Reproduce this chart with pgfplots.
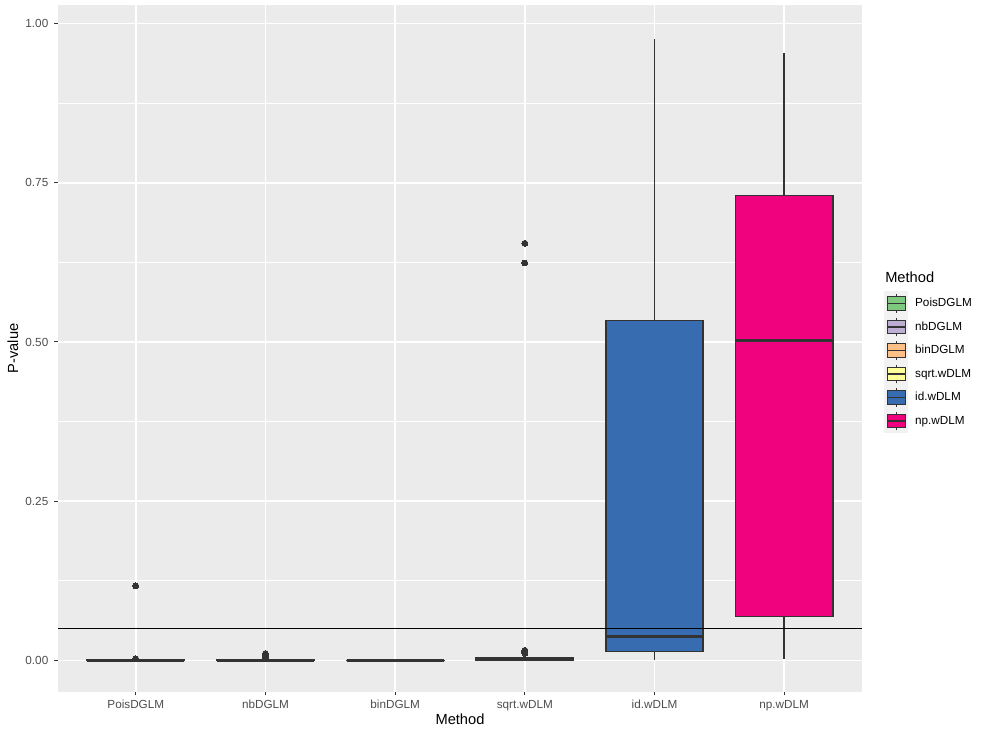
\documentclass[border=0pt]{standalone}
\usepackage{fontspec}
\setmainfont{Liberation Sans}
\usepackage{pgfplots}
\pgfplotsset{compat=1.18}
\usepgfplotslibrary{statistics}

\definecolor{panelbg}{HTML}{EBEBEB}
\definecolor{keybg}{HTML}{F2F2F2}
\definecolor{c33}{HTML}{333333}
\definecolor{c4d}{HTML}{4D4D4D}
\definecolor{cPois}{HTML}{7FC97F}
\definecolor{cNb}{HTML}{BEAED4}
\definecolor{cBin}{HTML}{FDC086}
\definecolor{cSqrt}{HTML}{FFFF99}
\definecolor{cId}{HTML}{386CB0}
\definecolor{cNp}{HTML}{F0027F}

\pgfplotsset{
  lgbox/.style={legend image code/.code={
    \fill[keybg] (0pt,-8.64pt) rectangle (17.28pt,8.64pt);
    \draw[c33, line width=0.7pt] (8.64pt,-7pt) -- (8.64pt,-5pt)
                                 (8.64pt,5pt) -- (8.64pt,7pt);
    \draw[c33, fill=#1, line width=0.7pt] (1.7pt,-5pt) rectangle (15.58pt,5pt);
    \draw[c33, line width=1.2pt] (1.7pt,0pt) -- (15.58pt,0pt);
  }},
  gbox/.style={
    solid, fill=#1, draw=c33, line width=1.1pt,
    mark=*, mark size=2.2pt, mark options={draw=c33, fill=c33, line width=0pt},
    lgbox=#1
  },
}

\begin{document}
\begin{tikzpicture}
\begin{axis}[
  scale only axis,
  width=603pt, height=515pt,
  xmin=0.4, xmax=6.6,
  ymin=-0.049, ymax=1.029,
  axis background/.style={fill=panelbg},
  axis line style={draw=none},
  grid=both,
  major grid style={white, line width=1.2pt},
  minor grid style={white, line width=0.6pt},
  xtick={1,2,3,4,5,6},
  xticklabels={PoisDGLM,nbDGLM,binDGLM,sqrt.wDLM,id.wDLM,np.wDLM},
  ytick={0,0.25,0.5,0.75,1},
  minor ytick={0.125,0.375,0.625,0.875},
  xtick pos=lower, ytick pos=left,
  tick align=outside,
  major tick length=2.75pt,
  minor tick length=0pt,
  tick style={c33, line width=0.8pt},
  tick label style={font=\fontsize{8.8}{10}\selectfont, text=c4d},
  yticklabel style={xshift=-1pt, /pgf/number format/.cd, fixed, fixed zerofill, precision=2, assume math mode=true},
  xlabel={Method}, ylabel={P-value},
  label style={font=\fontsize{11}{13}\selectfont},
  xlabel style={at={(axis description cs:0.5,-0.0408)}, anchor=center},
  ylabel style={at={(axis description cs:-0.056,0.5)}, anchor=center},
  boxplot/draw direction=y,
  boxplot/box extend=0.75,
  boxplot/whisker extend=0,
  boxplot/every median/.style={line width=2.5pt},
  legend style={at={(axis description cs:1.027,0.5834)}, anchor=north west,
    draw=none, fill=none, inner sep=0pt, row sep=-0.75pt, column sep=5pt,
    font=\fontsize{8.8}{10}\selectfont, nodes={inner sep=0pt}},
  legend cell align=left,
]
% PoisDGLM
\addplot+[gbox=cPois, boxplot prepared={draw position=1,
  lower whisker=0, lower quartile=0, median=0.0002,
  upper quartile=0.0006, upper whisker=0.0012}]
  table[row sep=\\, y index=0] {data\\ 0.117\\ 0.0025\\};
\addlegendentry{PoisDGLM}
% nbDGLM
\addplot+[gbox=cNb, boxplot prepared={draw position=2,
  lower whisker=0, lower quartile=0, median=0.0002,
  upper quartile=0.0007, upper whisker=0.0015}]
  table[row sep=\\, y index=0] {data\\ 0.004\\ 0.006\\ 0.008\\ 0.010\\ 0.011\\};
\addlegendentry{nbDGLM}
% binDGLM
\addplot+[gbox=cBin, boxplot prepared={draw position=3,
  lower whisker=0, lower quartile=0, median=0,
  upper quartile=0.0002, upper whisker=0.0004}]
  coordinates {};
\addlegendentry{binDGLM}
% sqrt.wDLM
\addplot+[gbox=cSqrt, boxplot prepared={draw position=4,
  lower whisker=0, lower quartile=0.0008, median=0.002,
  upper quartile=0.0042, upper whisker=0.008}]
  table[row sep=\\, y index=0] {data\\ 0.011\\ 0.013\\ 0.015\\ 0.016\\ 0.624\\ 0.655\\};
\addlegendentry{sqrt.wDLM}
% id.wDLM
\addplot+[gbox=cId, boxplot prepared={draw position=5,
  lower whisker=0.0, lower quartile=0.014, median=0.038,
  upper quartile=0.534, upper whisker=0.976}]
  coordinates {};
\addlegendentry{id.wDLM}
% np.wDLM
\addplot+[gbox=cNp, boxplot prepared={draw position=6,
  lower whisker=0.003, lower quartile=0.069, median=0.502,
  upper quartile=0.730, upper whisker=0.954}]
  coordinates {};
\addlegendentry{np.wDLM}
% significance level
\addplot[black, line width=1.1pt, forget plot] coordinates {(0.4,0.05) (6.6,0.05)};
\end{axis}
\node[anchor=west, inner sep=0pt, font=\fontsize{11}{13}\selectfont] at (620.25pt,310.5pt) {Method};
\path[use as bounding box] (-43.5pt,-33.75pt) rectangle (697.5pt,518.75pt);
\end{tikzpicture}
\end{document}
